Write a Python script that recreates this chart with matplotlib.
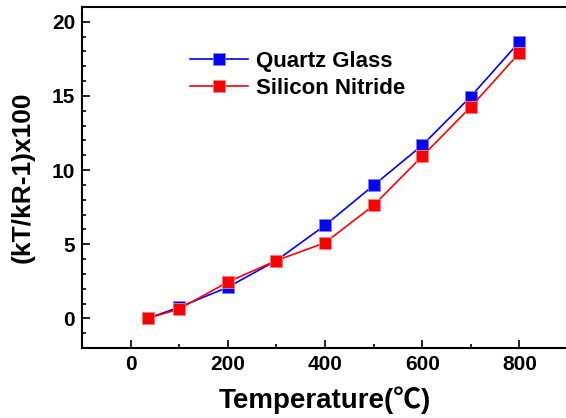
import matplotlib.pyplot as plt
from matplotlib.ticker import MultipleLocator

temps = [35, 100, 200, 300, 400, 500, 600, 700, 800]
quartz = [0.0, 0.75, 2.1, 3.9, 6.27, 8.97, 11.67, 14.96, 18.65]
nitride = [0.0, 0.63, 2.45, 3.9, 5.1, 7.62, 10.93, 14.26, 17.9]

plt.rcParams['font.family'] = ['Liberation Sans', 'DejaVu Sans']
plt.rcParams['font.weight'] = 'bold'

fig = plt.figure(figsize=(5.66, 4.18), dpi=100)
ax = fig.add_axes([82/566, 70/418, 486/566, 341/418])

ax.plot(temps, quartz, color='#0000ff', lw=1.2, marker='s', ms=8,
        mec='#8080ff', mew=0.6, label='Quartz Glass')
ax.plot(temps, nitride, color='#ff0000', lw=1.2, marker='s', ms=8,
        mec='#ff8080', mew=0.6, label='Silicon Nitride')

ax.set_xlim(-100, 900)
ax.set_ylim(-2, 21)
ax.xaxis.set_major_locator(MultipleLocator(200))
ax.xaxis.set_minor_locator(MultipleLocator(100))
ax.yaxis.set_major_locator(MultipleLocator(5))
ax.yaxis.set_minor_locator(MultipleLocator(1))
ax.tick_params(which='both', direction='in', labelsize=15, width=1.2)
ax.tick_params(which='major', length=6, pad=5)
ax.tick_params(which='minor', length=3)
ax.tick_params(top=False, right=False)
for s in ax.spines.values():
    s.set_linewidth(1.5)
ax.spines['right'].set_visible(False)

ax.set_xlabel('Temperature(℃)', fontsize=20, fontweight='bold',
              family=['Liberation Sans', 'Noto Sans CJK SC'], labelpad=9)
ax.set_ylabel('(kT/kR-1)x100', fontsize=19, fontweight='bold', labelpad=12)

ax.legend(loc='upper left', bbox_to_anchor=(0.204, 0.897), frameon=False,
          fontsize=16, handlelength=2.6, handletextpad=0.35,
          labelspacing=0.25, borderaxespad=0)

fig.savefig('out.png', dpi=100)
